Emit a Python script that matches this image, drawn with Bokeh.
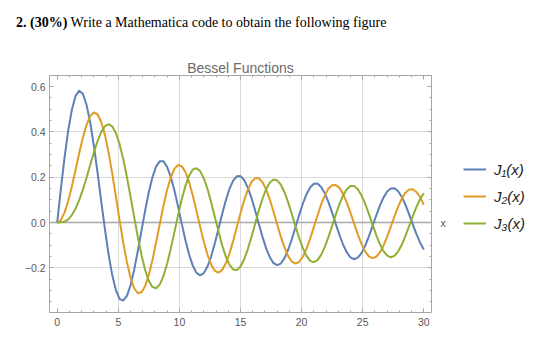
import numpy as np
from bokeh.plotting import figure
from bokeh.embed import file_html
from bokeh.resources import INLINE
from bokeh.layouts import column, row
from bokeh.models import (ColumnDataSource, Range1d, FixedTicker, LinearAxis,
                          Legend, LegendItem, Span, Div)

# Sample positions along x (0 to 30, every 0.3)
x_vals = np.round(np.arange(101) * 0.3, 1)

# Bessel functions of the first kind, tabulated at x_vals
j1_vals = [0.000, 0.148, 0.287, 0.406, 0.498, 0.558, 0.582, 0.568, 0.520, 0.442, 0.339, 0.221, 0.095, -0.027, -0.139, -0.231,
           -0.298, -0.337, -0.345, -0.324, -0.277, -0.208, -0.125, -0.035, 0.054, 0.135, 0.201, 0.248, 0.271, 0.270, 0.245, 0.200,
           0.140, 0.068, -0.007, -0.079, -0.142, -0.191, -0.222, -0.233, -0.223, -0.194, -0.149, -0.091, -0.027, 0.038, 0.098, 0.149,
           0.185, 0.204, 0.205, 0.188, 0.154, 0.108, 0.053, -0.006, -0.063, -0.114, -0.153, -0.179, -0.188, -0.181, -0.157, -0.120,
           -0.074, -0.021, 0.033, 0.083, 0.125, 0.155, 0.171, 0.172, 0.157, 0.129, 0.090, 0.043, -0.007, -0.055, -0.098, -0.132,
           -0.154, -0.162, -0.155, -0.135, -0.103, -0.062, -0.016, 0.030, 0.074, 0.110, 0.137, 0.150, 0.151, 0.138, 0.113, 0.078,
           0.036, -0.008, -0.051, -0.089, -0.119]
j2_vals = [0.000, 0.011, 0.044, 0.095, 0.159, 0.232, 0.306, 0.375, 0.431, 0.470, 0.486, 0.478, 0.445, 0.388, 0.311, 0.218,
           0.116, 0.012, -0.087, -0.174, -0.243, -0.290, -0.312, -0.308, -0.280, -0.230, -0.164, -0.086, -0.005, 0.075, 0.145, 0.201,
           0.238, 0.254, 0.248, 0.222, 0.177, 0.118, 0.051, -0.019, -0.085, -0.142, -0.186, -0.213, -0.221, -0.209, -0.180, -0.136,
           -0.081, -0.020, 0.042, 0.098, 0.145, 0.179, 0.196, 0.196, 0.178, 0.146, 0.101, 0.049, -0.008, -0.062, -0.110, -0.148,
           -0.172, -0.181, -0.174, -0.151, -0.116, -0.071, -0.020, 0.031, 0.080, 0.120, 0.150, 0.165, 0.166, 0.153, 0.126, 0.088,
           0.043, -0.005, -0.052, -0.094, -0.127, -0.149, -0.157, -0.151, -0.132, -0.102, -0.063, -0.018, 0.027, 0.070, 0.106, 0.132,
           0.146, 0.147, 0.135, 0.112, 0.078]
j3_vals = [0.000, 0.001, 0.004, 0.014, 0.033, 0.061, 0.099, 0.145, 0.198, 0.254, 0.309, 0.359, 0.399, 0.425, 0.434, 0.425,
           0.395, 0.347, 0.281, 0.202, 0.115, 0.024, -0.064, -0.144, -0.210, -0.258, -0.285, -0.290, -0.273, -0.235, -0.181, -0.114,
           -0.040, 0.034, 0.104, 0.163, 0.208, 0.234, 0.240, 0.227, 0.195, 0.148, 0.090, 0.025, -0.040, -0.100, -0.151, -0.187,
           -0.207, -0.210, -0.194, -0.162, -0.117, -0.063, -0.005, 0.053, 0.105, 0.148, 0.177, 0.190, 0.186, 0.167, 0.134, 0.089,
           0.038, -0.016, -0.068, -0.113, -0.147, -0.169, -0.175, -0.166, -0.143, -0.107, -0.063, -0.014, 0.036, 0.082, 0.120, 0.147,
           0.161, 0.161, 0.147, 0.120, 0.083, 0.039, -0.008, -0.054, -0.094, -0.126, -0.146, -0.153, -0.147, -0.128, -0.098, -0.059,
           -0.016, 0.028, 0.069, 0.104, 0.129]

series_labels = ["J₁(x)", "J₂(x)", "J₃(x)"]
series_colors = ["#5E81B5", "#E19C24", "#8FB032"]

x_major = [0, 5, 10, 15, 20, 25, 30]
x_minor = list(range(0, 31))
y_major = [-0.2, 0.0, 0.2, 0.4, 0.6]
y_minor = [round(-0.35 + 0.05 * k, 2) for k in range(21)]
y_labels = {-0.2: "\u22120.2", 0.0: "0.0", 0.2: "0.2", 0.4: "0.4", 0.6: "0.6"}

FRAME = "#a6a6a6"
TICKTXT = "#5a5a5a"
HEAD_H = 40
MAIN_W = 449
FIG_H = 341 - HEAD_H

heading = Div(
    text=('<div style="padding:15px 0 0 16px; font-family:\'Liberation Serif\'; font-size:14px; '
          'line-height:16px; color:black; white-space:nowrap">'
          '<b>2. (30%)</b> Write a Mathematica code to obtain the following figure</div>'),
    width=560, height=HEAD_H, margin=0)

p = figure(width=MAIN_W, height=FIG_H, output_backend="svg", toolbar_location=None,
           x_range=Range1d(-0.63, 30.63), y_range=Range1d(-0.397, 0.649),
           min_border_left=49, min_border_right=MAIN_W - 431, min_border_top=75 - HEAD_H,
           min_border_bottom=29, background_fill_color="white", border_fill_color="white", margin=0)
p.outline_line_color = FRAME
p.outline_line_width = 1

# grid lines
p.xgrid.ticker = FixedTicker(ticks=[5, 10, 15, 20, 25])
p.ygrid.ticker = FixedTicker(ticks=[-0.2, 0.2, 0.4])
p.grid.grid_line_color = "#d9d9d9"
p.grid.grid_line_width = 1

zero = Span(location=0, dimension="width", line_color="#a9a9a9", line_width=1.5, level="underlay")
p.add_layout(zero)

# frame axes with inward ticks
def style_axis(ax):
    ax.axis_line_color = None
    ax.major_tick_in = 4
    ax.major_tick_out = 0
    ax.minor_tick_in = 2
    ax.minor_tick_out = 0
    ax.major_tick_line_color = FRAME
    ax.minor_tick_line_color = FRAME
    ax.major_label_text_font = "Liberation Sans"
    ax.major_label_text_font_size = "10.5px"
    ax.major_label_text_color = TICKTXT

p.xaxis.ticker = FixedTicker(ticks=x_major, minor_ticks=x_minor)
p.yaxis.ticker = FixedTicker(ticks=y_major, minor_ticks=y_minor)
p.yaxis.major_label_overrides = y_labels
style_axis(p.xaxis[0])
style_axis(p.yaxis[0])
p.xaxis.major_label_standoff = 5
p.yaxis.major_label_standoff = 4

# top frame edge carries the plot title
top_ax = LinearAxis(ticker=FixedTicker(ticks=x_major, minor_ticks=x_minor),
                    major_label_overrides={t: "" for t in x_major})
style_axis(top_ax)
top_ax.major_label_standoff = 0
top_ax.axis_label = "Bessel Functions"
top_ax.axis_label_standoff = 0
top_ax.axis_label_text_font = "Liberation Sans"
top_ax.axis_label_text_font_style = "normal"
top_ax.axis_label_text_font_size = "14px"
top_ax.axis_label_text_color = "#6b6b6b"

# right frame edge carries the x-axis name at y = 0
right_ax = LinearAxis(ticker=FixedTicker(ticks=y_major, minor_ticks=y_minor),
                      major_label_overrides={t: ("x" if t == 0.0 else "") for t in y_major})
style_axis(right_ax)
right_ax.major_label_standoff = 9
p.add_layout(top_ax, "above")
p.add_layout(right_ax, "right")

# curves
src = ColumnDataSource(dict(x=x_vals, j1=j1_vals, j2=j2_vals, j3=j3_vals))
for col, color in zip(["j1", "j2", "j3"], series_colors):
    p.line("x", col, source=src, line_color=color, line_width=2)

# legend panel to the right of the plot; swatch renderers sit below its visible range
lf = figure(width=560 - MAIN_W, height=FIG_H, output_backend="svg", toolbar_location=None,
            x_range=Range1d(0, 1), y_range=Range1d(0, 1), min_border=0, margin=0,
            background_fill_color="white", border_fill_color="white")
lf.axis.visible = False
lf.grid.visible = False
lf.outline_line_color = None
swatches = [lf.line(x=[0, 1], y=[-5, -5], line_color=c, line_width=2) for c in series_colors]
legend = Legend(items=[LegendItem(label=lab, renderers=[r]) for lab, r in zip(series_labels, swatches)],
                location=(14, 79), padding=0, margin=0, spacing=7,
                glyph_width=23, glyph_height=20, label_height=20, label_standoff=8,
                label_text_font="Liberation Sans", label_text_font_style="italic",
                label_text_font_size="15px", label_text_color="#222222",
                border_line_color=None, background_fill_alpha=0)
lf.add_layout(legend)

layout = column(heading, row(p, lf, spacing=0), spacing=0)
open("out.html", "w").write(file_html(layout, INLINE))
